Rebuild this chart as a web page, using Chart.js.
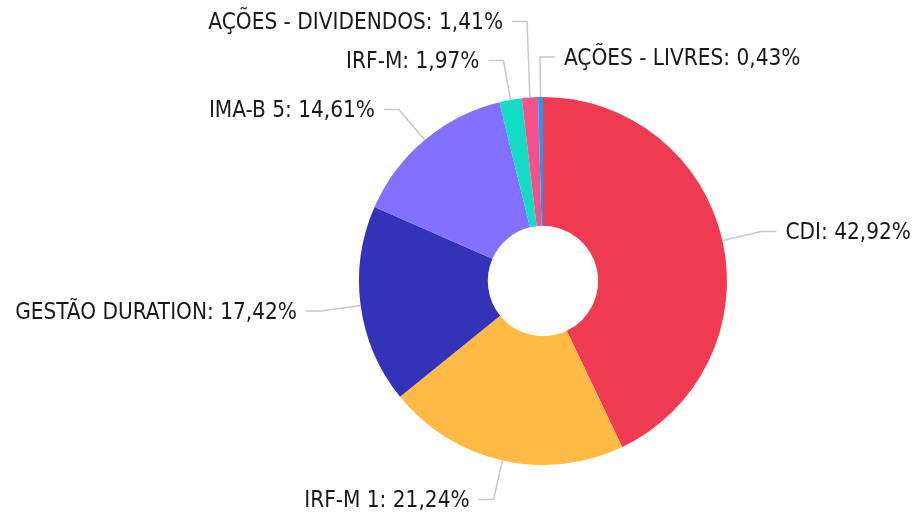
<!DOCTYPE html>
<html>
<head>
<meta charset="utf-8">
<script src="https://cdn.jsdelivr.net/npm/chart.js@4.4.0/dist/chart.umd.min.js"></script>
<style>
  html, body { margin: 0; padding: 0; background: #fff; }
  #wrap { width: 915px; height: 513px; position: relative; }
</style>
</head>
<body>
<div id="wrap"><canvas id="pie"></canvas></div>
<script>
// alocação por estratégia (%)
const categories = ["CDI", "IRF-M 1", "GESTÃO DURATION", "IMA-B 5", "IRF-M", "AÇÕES - DIVIDENDOS", "AÇÕES - LIVRES"];
const shares = [42.92, 21.24, 17.42, 14.61, 1.97, 1.41, 0.43];
const sliceColors = ["#EF3B52", "#FFBA45", "#3333B8", "#8470FF", "#12DDC4", "#F5508A", "#1A9BF0"];

const LABEL_FONT = '22.4px "DejaVu Sans Condensed", "DejaVu Sans", sans-serif';

function fmtPct(v) {
  return v.toFixed(2).replace(".", ",") + "%";
}

// leader lines + labels, roughly like echarts pie labels
const outsideLabels = {
  id: "outsideLabels",
  afterDatasetsDraw(chart) {
    const ctx = chart.ctx;
    const meta = chart.getDatasetMeta(0);
    const L1 = 40, L2 = 15, GAP = 39;
    const items = meta.data.map((arc, i) => {
      const mid = (arc.startAngle + arc.endAngle) / 2;
      const c = Math.cos(mid), s = Math.sin(mid);
      const r = arc.outerRadius;
      return {
        i,
        x0: arc.x + c * r, y0: arc.y + s * r,
        x1: arc.x + c * (r + L1), y1: arc.y + s * (r + L1),
        side: c > -0.05 ? 1 : -1,
      };
    });
    items.forEach((it) => (it.ly = it.y1));
    [1, -1].forEach((side) => {
      const list = items.filter((it) => it.side === side).sort((a, b) => b.y1 - a.y1);
      for (let k = 1; k < list.length; k++) {
        if (list[k].ly > list[k - 1].ly - GAP) list[k].ly = list[k - 1].ly - GAP;
      }
    });

    ctx.save();
    ctx.strokeStyle = "#c8c8c8";
    ctx.lineWidth = 1.5;
    ctx.font = LABEL_FONT;
    ctx.fillStyle = "#1a1a1a";
    ctx.textBaseline = "middle";
    items.forEach((it) => {
      const x2 = it.x1 + it.side * L2;
      ctx.beginPath();
      ctx.moveTo(it.x0, it.y0);
      ctx.lineTo(it.x1, it.ly);
      ctx.lineTo(x2, it.ly);
      ctx.stroke();
      ctx.textAlign = it.side > 0 ? "left" : "right";
      ctx.fillText(categories[it.i] + ": " + fmtPct(shares[it.i]), x2 + it.side * 9, it.ly + 2);
    });
    ctx.restore();
  },
};

new Chart(document.getElementById("pie"), {
  type: "doughnut",
  data: {
    labels: categories,
    datasets: [{ data: shares, backgroundColor: sliceColors, borderWidth: 0 }],
  },
  options: {
    responsive: true,
    maintainAspectRatio: false,
    animation: false,
    cutout: "30%",
    layout: { padding: { top: 97, bottom: 48, left: 359, right: 188 } },
    plugins: { legend: { display: false }, tooltip: { enabled: false } },
  },
  plugins: [outsideLabels],
});
</script>
</body>
</html>
